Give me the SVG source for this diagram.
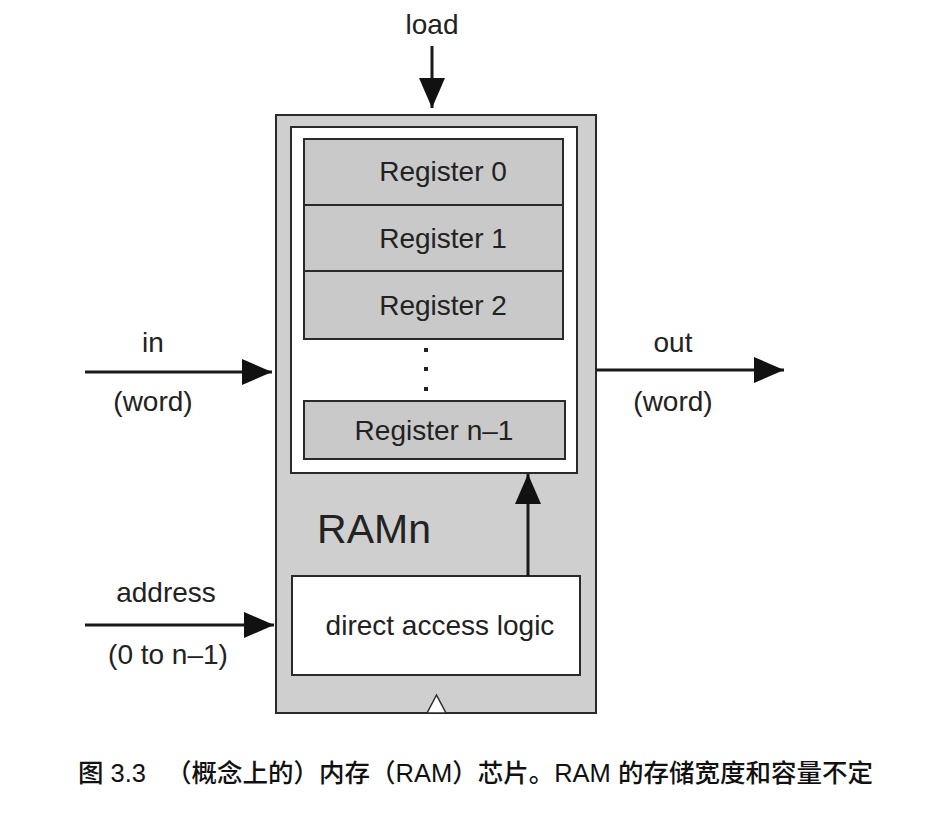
<svg xmlns="http://www.w3.org/2000/svg" width="944" height="823" viewBox="0 0 944 823">
<style>
.t{font-family:"Liberation Sans",Arial,sans-serif;fill:#222;text-anchor:middle;font-size:28px}
.reg{fill:#c9c9c9;stroke:#2a2a2a;stroke-width:2}
.box{stroke:#2a2a2a;stroke-width:2}
.ln{stroke:#1a1a1a;stroke-width:3;fill:none}
.cap{font-family:"Liberation Sans","Noto Sans CJK SC",sans-serif;fill:#111;font-size:25.5px;font-weight:500}
</style>
<defs>
<marker id="ah" viewBox="0 0 30 26" refX="30" refY="13" markerWidth="30" markerHeight="26" markerUnits="userSpaceOnUse" orient="auto">
<path d="M0,0 L30,13 L0,26 Z" fill="#111"/>
</marker>
</defs>
<rect width="944" height="823" fill="#fff"/>
<g id="ramn">
<rect class="box" x="276" y="115" width="320" height="598" fill="#cfcfcf"/>
<rect class="box" x="291" y="127" width="286" height="346" fill="#fff"/>
<text class="t" x="374" y="543" style="font-size:41px">RAMn</text>
<path d="M427,713 L436.5,695 L446,713 Z" fill="#fff" stroke="#2a2a2a" stroke-width="1.5"/>
</g>
<g id="reg0"><rect class="reg" x="304" y="139" width="259" height="66"/><text class="t" x="443" y="181">Register 0</text></g>
<g id="reg1"><rect class="reg" x="304" y="205" width="259" height="66"/><text class="t" x="443" y="248">Register 1</text></g>
<g id="reg2"><rect class="reg" x="304" y="271" width="259" height="68"/><text class="t" x="443" y="315">Register 2</text></g>
<g id="dots" fill="#222"><rect x="424" y="348" width="4" height="4"/><rect x="424" y="367" width="4" height="4"/><rect x="424" y="387" width="4" height="4"/></g>
<g id="regn"><rect class="reg" x="304" y="401" width="261" height="58"/><text class="t" x="434" y="440">Register n–1</text></g>
<g id="dal"><rect class="box" x="292" y="576" width="288" height="99" fill="#fff"/><text class="t" x="440" y="635">direct access logic</text></g>
<g id="connectors">
<line class="ln" x1="432" y1="46" x2="432" y2="108" marker-end="url(#ah)"/>
<line class="ln" x1="85" y1="372" x2="272" y2="372" marker-end="url(#ah)"/>
<line class="ln" x1="596" y1="370" x2="784" y2="370" marker-end="url(#ah)"/>
<line class="ln" x1="85" y1="625" x2="274" y2="625" marker-end="url(#ah)"/>
<line class="ln" x1="528" y1="576" x2="528" y2="474" marker-end="url(#ah)"/>
</g>
<g id="labels">
<text class="t" x="432" y="34">load</text>
<text class="t" x="153" y="352">in</text>
<text class="t" x="153" y="411">(word)</text>
<text class="t" x="673" y="352">out</text>
<text class="t" x="673" y="411">(word)</text>
<text class="t" x="166" y="602">address</text>
<text class="t" x="168" y="664">(0 to n–1)</text>
</g>
<text class="cap" x="78" y="782"><tspan>图 3.3</tspan><tspan x="166">（概念上的）内存（RAM）芯片。RAM 的存储宽度和容量不定</tspan></text>
</svg>
